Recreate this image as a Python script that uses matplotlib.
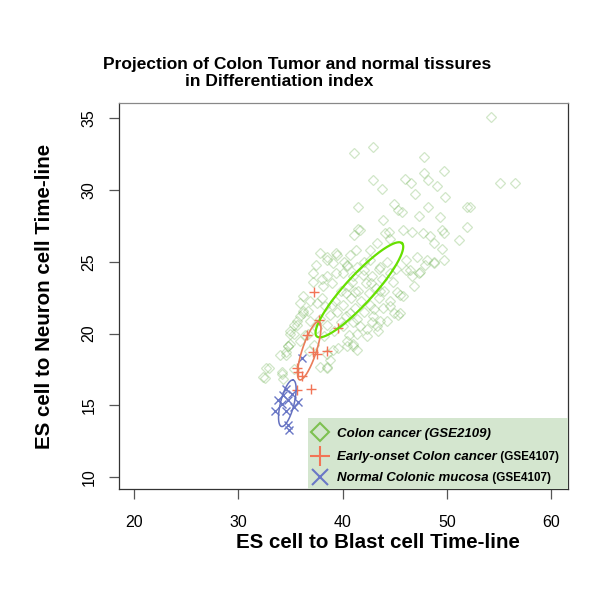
import numpy as np
import matplotlib
matplotlib.use("Agg")
import matplotlib.pyplot as plt
from matplotlib.patches import Rectangle

plt.rcParams['font.family'] = ['Liberation Sans', 'DejaVu Sans']

# Colon cancer (GSE2109) samples
colon_x = [54.2, 41.1, 42.9, 47.8, 47.8, 49.7, 42.9, 43.8, 46.0, 46.5, 48.2, 49.0, 46.9, 49.8, 55.1, 56.5,
           41.5, 44.9, 45.3, 45.7, 48.2, 47.3, 49.3, 51.9, 52.2, 43.9,
           41.5, 41.1, 41.7, 44.1, 45.8, 46.6, 47.7, 48.4, 49.5, 49.7, 51.9, 51.1, 48.7, 49.5, 44.4, 43.3, 44.5,
           37.8, 38.5, 39.5, 39.4, 40.4, 40.7, 41.3, 42.6, 41.4, 42.6, 43.6, 46.1, 47.1, 48.05, 48.7, 49.7,
           48.7, 47.9, 47.4, 46.6, 46.1, 46.45, 47.3, 46.8, 45.8, 45.2, 45.5, 45.3, 45.5, 43.9, 44.5, 43.6,
           42.9, 43.3, 42.8, 44.2, 43.4, 44.9,
           37.4, 38.5, 39.1, 40.4, 42.0, 37.2, 38.1, 38.5, 37.2, 36.2, 36.9, 37.5, 35.9, 36.2, 36.2, 36.7,
           35.9, 35.6, 36.9, 35.0, 35.3, 34.96, 36.7, 35.0, 35.9, 34.6, 34.8, 34.0, 41.0, 40.4, 41.4, 39.1,
           38.5, 41.0, 40.4, 41.4, 42.3, 38.5, 37.8, 38.5, 38.8,
           32.7, 32.6, 32.9, 32.4, 34.2, 34.2, 34.3, 35.3, 34.6, 34.8, 35.3, 35.6,
           39.5, 40.0, 40.3, 40.8, 41.2, 41.5, 41.8, 42.2, 42.5, 42.8, 43.2, 43.5, 43.8, 44.2, 44.5, 40.5,
           41.0, 39.8, 39.3, 40.0, 41.0, 42.0, 42.6, 43.5, 44.0, 44.8, 45.1, 38.8, 38.5, 39.2, 40.6, 41.7,
           43.6, 39.0, 38.0, 37.8, 38.2, 37.3, 36.8, 39.6, 40.0, 42.0, 41.4, 40.3, 39.0, 38.3, 37.5, 36.4,
           39.8, 41.2, 42.3, 43.0, 44.5, 40.7, 42.7, 41.9, 40.9, 38.0, 39.4, 40.1]
colon_y = [35.1, 32.6, 33.0, 32.3, 31.2, 31.3, 30.7, 30.1, 30.8, 30.5, 30.7, 30.3, 29.7, 29.5, 30.5, 30.5,
           28.8, 29.0, 28.6, 28.5, 28.8, 28.2, 28.1, 28.8, 28.8, 27.9,
           27.3, 26.9, 27.2, 27.0, 27.2, 27.1, 27.0, 26.8, 27.2, 27.0, 27.4, 26.5, 26.3, 25.9, 27.1, 26.3, 26.6,
           25.6, 25.35, 25.5, 25.6, 24.8, 25.5, 25.8, 25.8, 24.65, 25.1, 24.65, 25.1, 25.35, 25.1, 25.0, 25.1,
           24.9, 24.8, 24.3, 24.0, 24.4, 24.4, 24.2, 23.3, 22.6, 22.9, 22.7, 21.3, 21.4, 21.75, 21.9, 20.9,
           21.2, 20.5, 20.8, 20.9, 20.2, 21.4,
           24.8, 25.1, 24.9, 24.7, 24.4, 23.6, 23.3, 24.0, 24.2, 22.6, 22.3, 22.1, 22.1, 21.4, 21.6, 21.6,
           21.2, 20.9, 20.9, 20.2, 20.6, 20.0, 20.0, 19.3, 19.5, 18.7, 19.1, 18.5, 19.3, 19.1, 18.85, 18.85,
           18.6, 19.1, 19.5, 20.0, 19.8, 17.7, 17.7, 17.6, 18.15,
           17.6, 16.9, 17.6, 17.0, 17.2, 17.3, 16.8, 17.5, 18.5, 19.1, 20.0, 20.6,
           21.5, 22.0, 21.2, 22.5, 21.8, 23.0, 22.3, 23.5, 22.8, 24.0, 23.2, 24.5, 23.8, 25.0, 24.2, 23.3,
           24.0, 23.0, 22.3, 20.5, 20.8, 21.5, 22.0, 22.5, 23.0, 23.6, 24.5, 21.3, 20.6, 20.2, 19.9, 20.5,
           23.0, 23.5, 22.5, 21.0, 19.8, 19.2, 18.8, 19.0, 24.2, 25.0, 21.0, 22.8, 22.0, 21.9, 20.4, 19.9,
           20.8, 22.9, 20.3, 21.7, 22.3, 21.4, 23.5, 24.1, 23.6, 23.8, 24.2, 25.0]

# Early-onset colon cancer (GSE4107)
early_x = [37.3, 37.7, 39.6, 36.6, 37.2, 37.5, 38.5, 35.6, 35.75, 36.1, 35.66, 36.94]
early_y = [22.9, 20.95, 20.36, 19.9, 18.73, 18.6, 18.8, 17.57, 17.34, 17.04, 16.06, 16.1]

# Normal colonic mucosa (GSE4107)
normal_x = [36.1, 34.6, 35.1, 34.3, 33.8, 34.8, 35.7, 34.2, 35.3, 33.5, 34.6, 34.8, 34.9]
normal_y = [18.3, 16.1, 15.8, 15.7, 15.4, 15.4, 15.2, 15.1, 14.9, 14.6, 14.6, 13.6, 13.3]

# ellipses: center, semi-axis vectors (data units)
colon_ell = [(41.6, 23.05), (4.08, 3.25), (1.0, -0.66)]
early_ell = [(36.8, 18.8), (0.92, 2.03), (0.64, -0.15)]
normal_ell = [(34.7, 15.14), (0.56, 1.62), (0.63, -0.115)]

green, red, blue = '#7ab860', '#f27456', '#6a78c6'

fig = plt.figure(figsize=(6, 6), dpi=100)
ax = fig.add_axes([0.198, 0.185, 0.749, 0.643])

ax.plot(colon_x, colon_y, 'D', ms=4.6, mfc='none', mec=green, mew=0.9, alpha=0.35, ls='none')
ax.plot(early_x, early_y, '+', ms=7.5, color=red, mew=1.0, ls='none')
ax.plot(normal_x, normal_y, 'x', ms=5.5, color=blue, mew=1.0, ls='none')

t = np.linspace(0, 2 * np.pi, 300)
for (c, a, b), col, lw in [(colon_ell, '#66e000', 1.6), (early_ell, '#ea7c58', 1.2), (normal_ell, '#6470c0', 1.1)]:
    ex = c[0] + a[0] * np.cos(t) + b[0] * np.sin(t)
    ey = c[1] + a[1] * np.cos(t) + b[1] * np.sin(t)
    ax.plot(ex, ey, color=col, lw=lw)

ax.set_xlim(18.56, 61.6)
ax.set_ylim(9.16, 36.06)
ax.set_xticks([20, 30, 40, 50, 60])
ax.set_yticks([10, 15, 20, 25, 30, 35])
ax.tick_params(direction='out', length=7, width=0.9, color='#555555', labelsize=11.5, pad=12)
ax.tick_params(axis='y', pad=9)
for lab in ax.get_yticklabels():
    lab.set_rotation(90)
    lab.set_va('center')
for s in ax.spines.values():
    s.set_color('#333333')
    s.set_linewidth(0.9)
ax.spines['top'].set_color('#888888')

# legend box
ax.add_patch(Rectangle((0.421, 0.0), 0.579, 0.184, transform=ax.transAxes,
                       facecolor='#d4e6cf', edgecolor='none', zorder=5))
sym_x, txt_x = 0.448, 0.4855
rows = [('D', '#7dc050', 9, 1.5, 0.149, 0.135, 'Colon cancer (GSE2109)', None),
        ('+', red, 14, 1.5, 0.0855, 0.075, 'Early-onset Colon cancer', ' (GSE4107)'),
        ('x', blue, 11, 1.5, 0.0324, 0.0207, 'Normal Colonic mucosa', ' (GSE4107)')]
fig.canvas.draw()
r = fig.canvas.get_renderer()
for m, col, ms, mew, ysym, ybase, s1, s2 in rows:
    ax.plot([sym_x], [ysym], m, transform=ax.transAxes, ms=ms, mfc='none', mec=col, mew=mew,
            zorder=6, clip_on=False)
    t1 = ax.text(txt_x, ybase, s1, transform=ax.transAxes, fontsize=9.5, fontweight='bold',
                 fontstyle='italic', va='baseline', zorder=6)
    if s2:
        bb = t1.get_window_extent(renderer=r).transformed(ax.transAxes.inverted())
        ax.text(bb.x1, ybase, s2, transform=ax.transAxes, fontsize=8.4, fontweight='bold',
                va='baseline', zorder=6)

fig.text(297 / 600, 1 - 65 / 600, 'Projection of Colon Tumor and normal tissures',
         ha='center', va='center', fontsize=12.5, fontweight='bold')
fig.text(279 / 600, 1 - 82 / 600, 'in Differentiation index',
         ha='center', va='center', fontsize=12.5, fontweight='bold')
fig.text(378 / 600, 1 - 543 / 600, 'ES cell to Blast cell Time-line',
         ha='center', va='center', fontsize=14.8, fontweight='bold')
fig.text(45 / 600, 1 - 296 / 600, 'ES cell to Neuron cell Time-line', rotation=90,
         ha='center', va='center', fontsize=14.8, fontweight='bold')

fig.savefig('out.png', dpi=100, facecolor='white')
